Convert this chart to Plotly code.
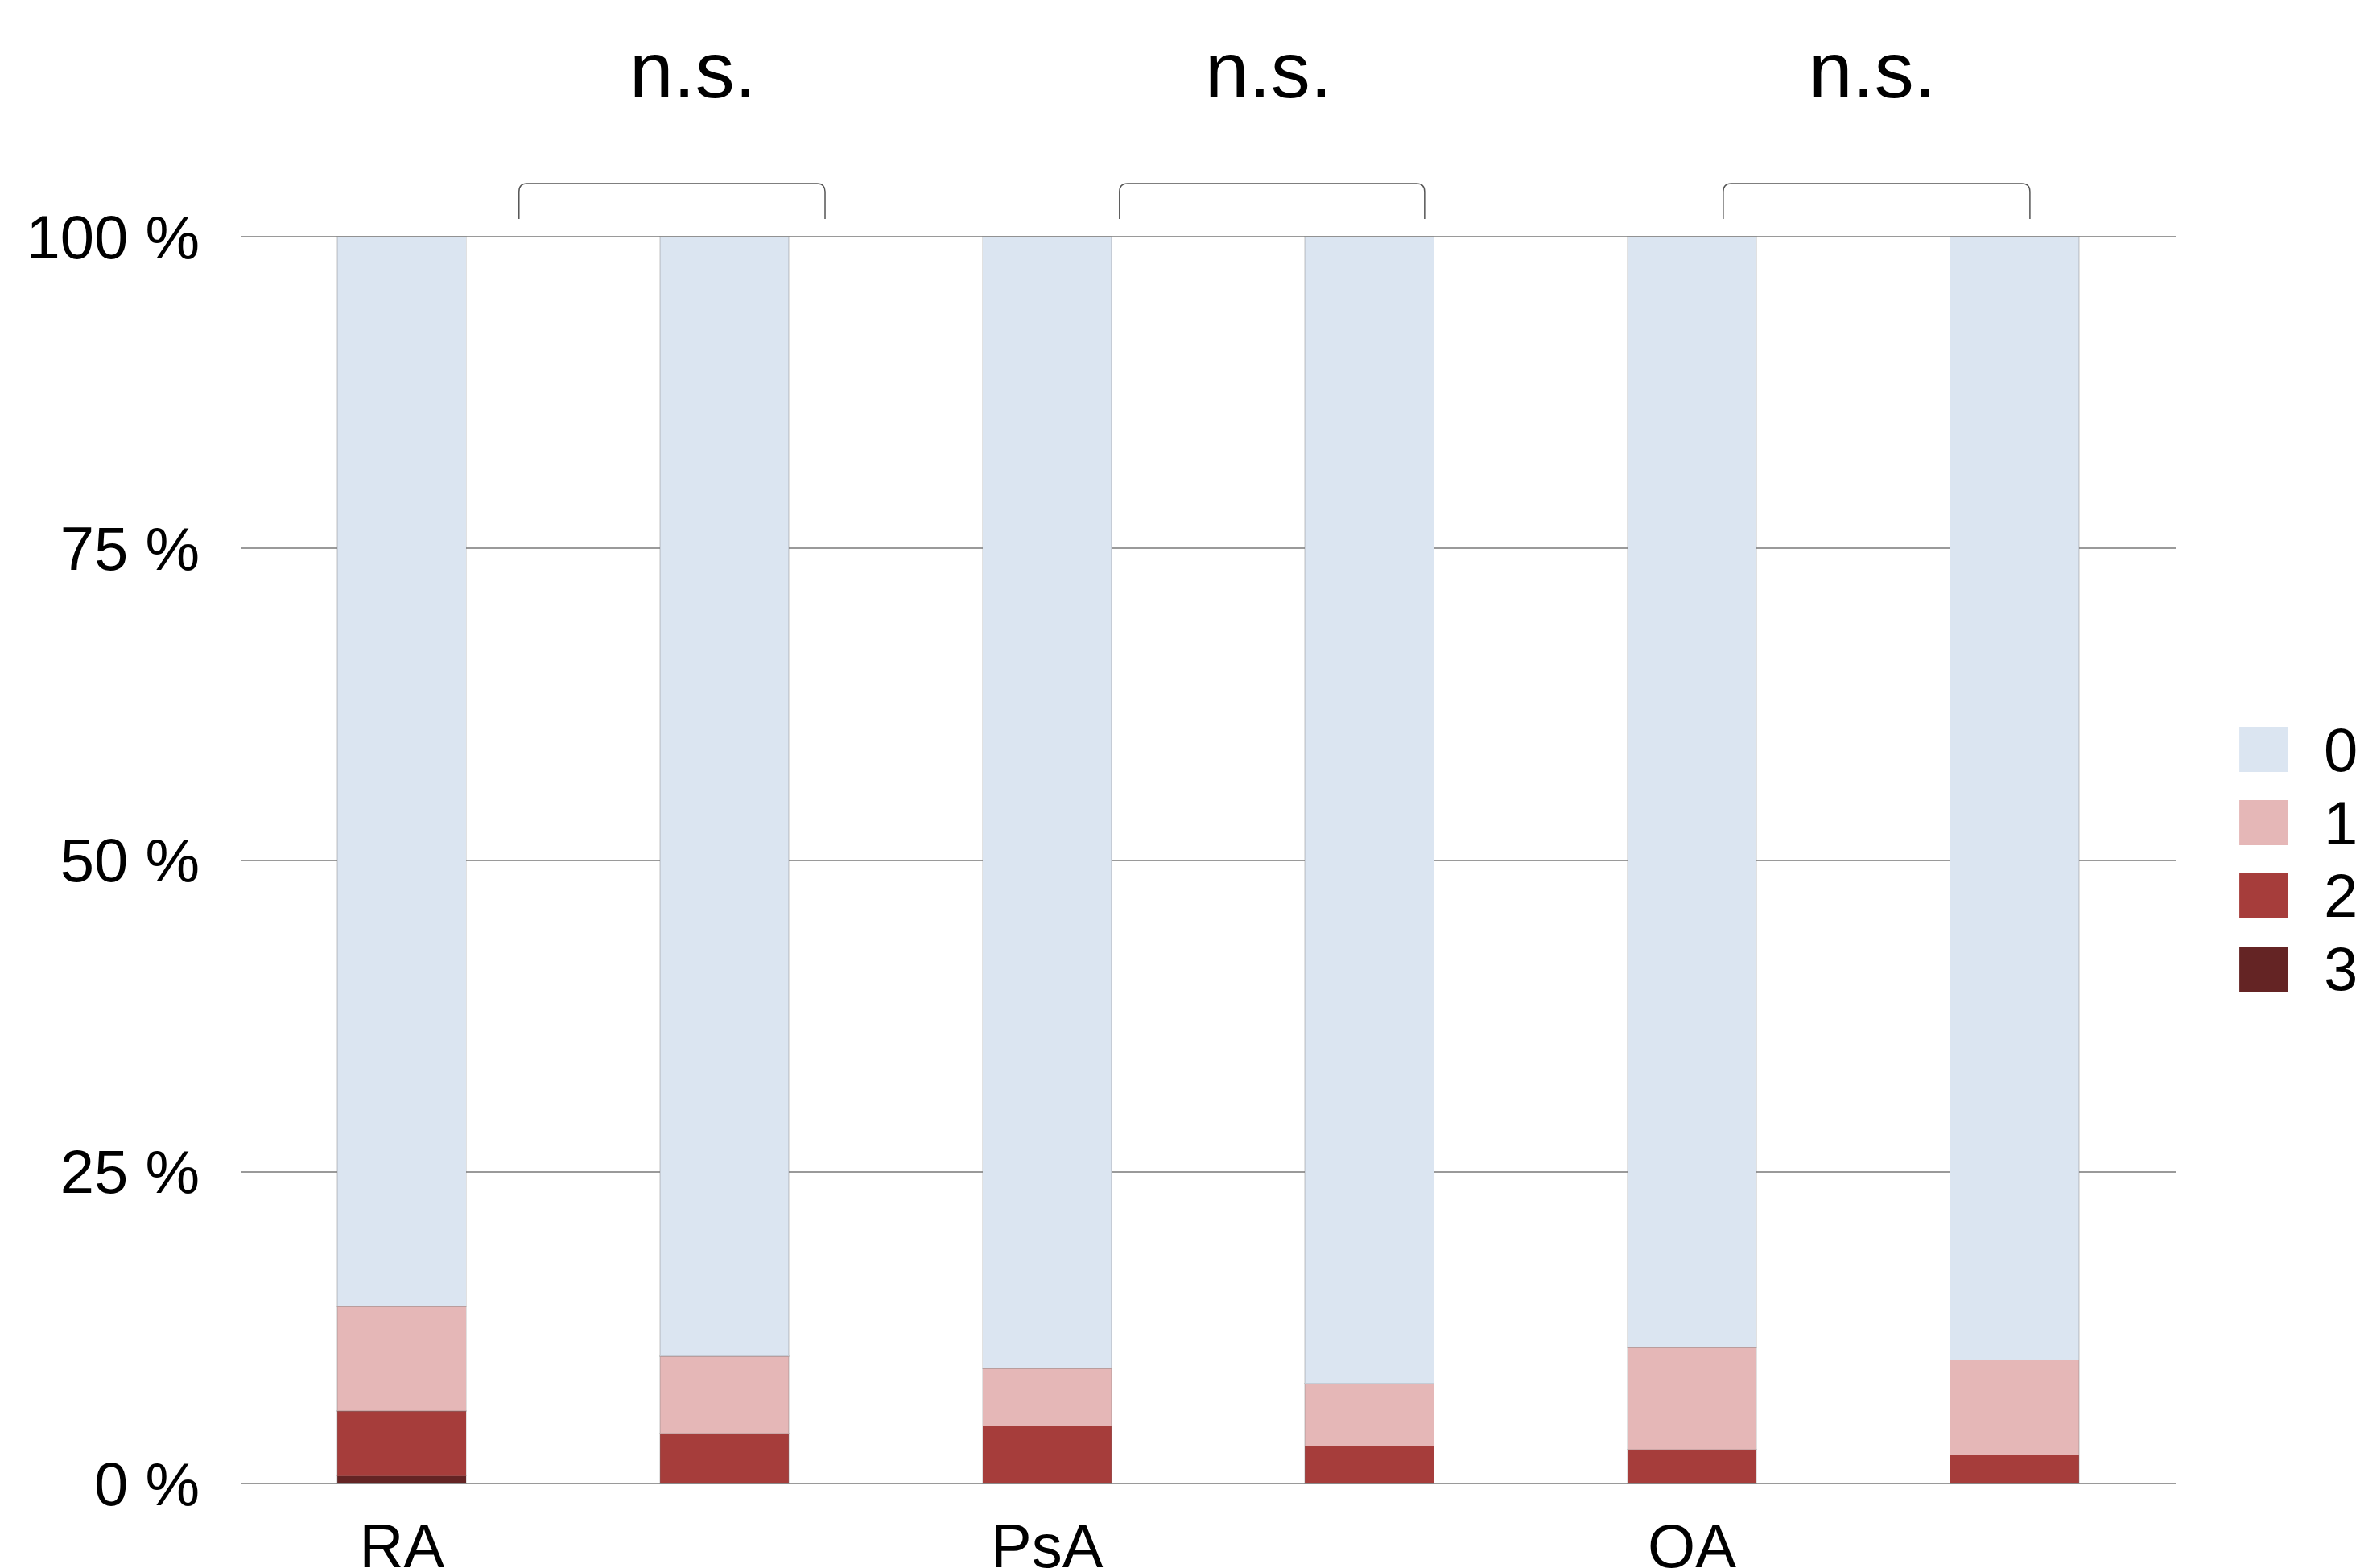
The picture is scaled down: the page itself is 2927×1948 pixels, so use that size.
import plotly.graph_objects as go

# Six bars in pairs; each pair is labelled by its diagnosis under the first bar
bar_labels = ["RA", "", "PsA", "", "OA", ""]

# Percentage of each grade per bar
grade_names = ["0", "1", "2", "3"]
grade_0 = [85.8, 89.8, 90.8, 92.0, 89.1, 90.1]
grade_1 = [8.4, 6.2, 4.6, 5.0, 8.2, 7.6]
grade_2 = [5.2, 4.0, 4.6, 3.0, 2.7, 2.3]
grade_3 = [0.6, 0.0, 0.0, 0.0, 0.0, 0.0]
grade_colors = ["#dbe5f1", "#e5b7b7", "#a63d3b", "#642424"]

# Significance brackets (in bar-index units) and their labels
bracket_spans = [(0.363, 1.312), (2.225, 3.171), (4.097, 5.048)]
bracket_label_x = [0.903, 2.687, 4.559]
bracket_text = ["n.s.", "n.s.", "n.s."]

y_ticks = [0, 25, 50, 75, 100]

FONT = "Liberation Sans, Arial, Helvetica, sans-serif"
FS = 76

bar_x = list(range(len(bar_labels)))
series = [grade_0, grade_1, grade_2, grade_3]

fig = go.Figure()
# stack from the highest grade at the bottom up to grade 0 on top
for name, vals, col in reversed(list(zip(grade_names, series, grade_colors))):
    fig.add_trace(go.Bar(
        x=bar_x, y=vals, name=name,
        marker=dict(color=col, line=dict(color="rgba(120,120,120,0.22)", width=1.5)),
        showlegend=False,
    ))

shapes = []
annotations = []

# brackets with rounded corners above the plot area
y_top, y_leg = 1.0405, 1.0122
rx, ry = 0.025, 0.0064
for (x0, x1) in bracket_spans:
    path = (f"M {x0},{y_leg} L {x0},{y_top - ry} Q {x0},{y_top} {x0 + rx},{y_top} "
            f"L {x1 - rx},{y_top} Q {x1},{y_top} {x1},{y_top - ry} L {x1},{y_leg}")
    shapes.append(dict(type="path", xref="x", yref="paper", path=path,
                       line=dict(color="#555555", width=1.5)))
for xl, txt in zip(bracket_label_x, bracket_text):
    annotations.append(dict(x=xl, y=1.1312, xref="x", yref="paper", text=txt,
                            showarrow=False, xanchor="center", yanchor="middle",
                            font=dict(family=FONT, size=98, color="black")))

# legend drawn as large swatches on the right
leg_x0, leg_x1, leg_top, leg_h, leg_step = 1.0329, 1.0579, 0.6064, 0.036, 0.0585
for i, (name, col) in enumerate(zip(grade_names, grade_colors)):
    top = leg_top - i * leg_step
    shapes.append(dict(type="rect", xref="paper", yref="paper",
                       x0=leg_x0, x1=leg_x1, y0=top - leg_h, y1=top,
                       fillcolor=col, line=dict(width=0)))
    annotations.append(dict(x=1.0757, y=top - leg_h / 2, xref="paper", yref="paper",
                            text=name, showarrow=False, xanchor="left", yanchor="middle",
                            font=dict(family=FONT, size=FS, color="black")))

fig.update_layout(
    width=2927, height=1948, autosize=False,
    margin=dict(l=299, r=224, t=291, b=102, pad=0),
    paper_bgcolor="white", plot_bgcolor="white",
    barmode="stack", bargap=0.6,
    font=dict(family=FONT, size=FS, color="black"),
    shapes=shapes, annotations=annotations,
    xaxis=dict(range=[-0.5, len(bar_labels) - 0.5],
               tickvals=[i for i, t in enumerate(bar_labels) if t],
               ticktext=[t for t in bar_labels if t],
               showgrid=False, zeroline=False, showline=False, automargin=False,
               ticks="", ticklabelstandoff=24,
               tickfont=dict(family=FONT, size=FS, color="black")),
    yaxis=dict(range=[-0.2, 100.2], tickvals=y_ticks,
               ticktext=[f"{v} %" for v in y_ticks],
               showgrid=True, gridcolor="#9a9a9a", gridwidth=2, automargin=False,
               zeroline=False, showline=False, ticks="", ticklabelstandoff=50,
               tickfont=dict(family=FONT, size=FS, color="black")),
)

fig.write_html("out.html")
